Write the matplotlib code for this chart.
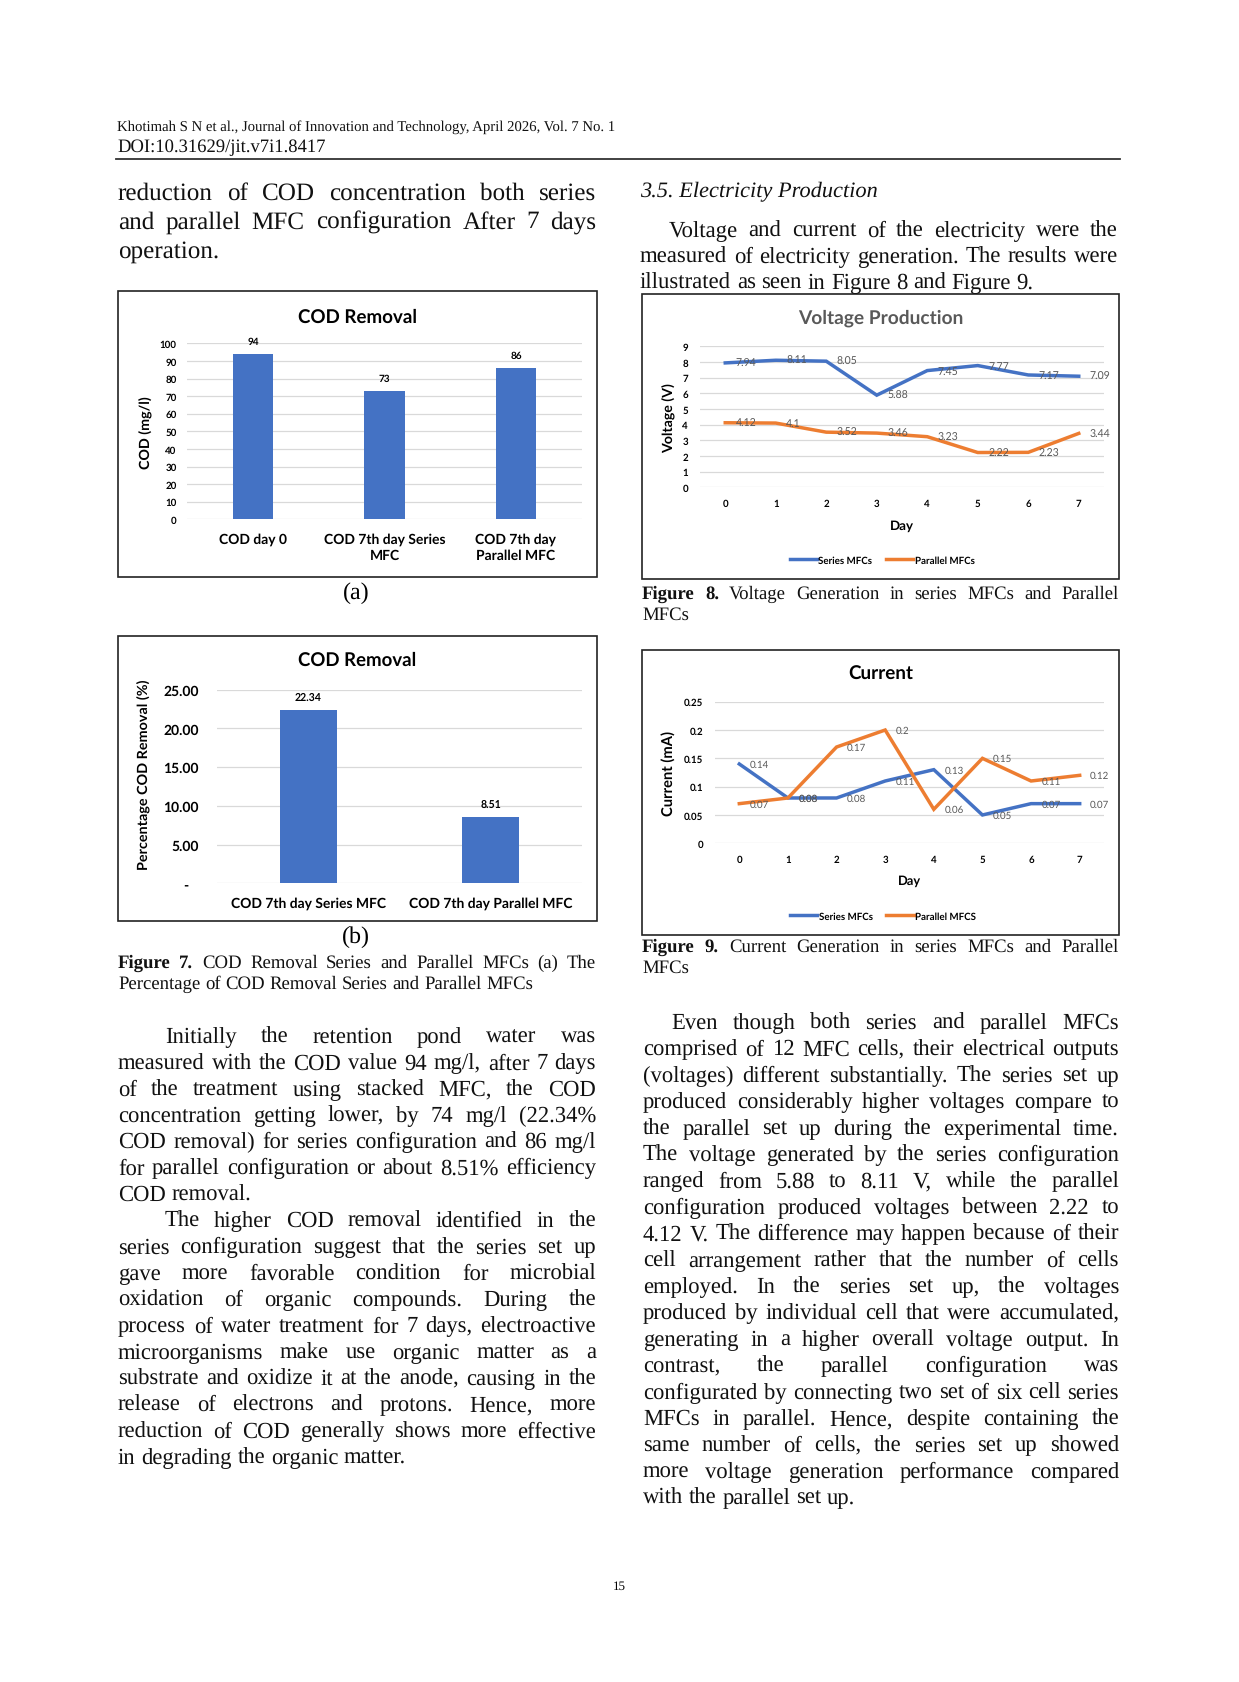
import matplotlib
matplotlib.use('Agg')
import matplotlib.pyplot as plt
from matplotlib.font_manager import FontProperties
from matplotlib.patches import Rectangle

plt.rcParams['text.hinting'] = 'no_hinting'
plt.rcParams['text.antialiased'] = True

# ---------------- data ----------------
cod_categories = ["COD day 0", "COD 7th day Series\nMFC", "COD 7th day\nParallel MFC"]
cod_values = [94, 73, 86]
cod_yticks = [0, 10, 20, 30, 40, 50, 60, 70, 80, 90, 100]

removal_categories = ["COD 7th day Series MFC", "COD 7th day Parallel MFC"]
removal_values = [22.34, 8.51]
removal_yticks = [0, 5, 10, 15, 20, 25]

days = [0, 1, 2, 3, 4, 5, 6, 7]
voltage_series = [7.94, 8.11, 8.05, 5.88, 7.45, 7.77, 7.17, 7.09]
voltage_parallel = [4.12, 4.1, 3.52, 3.46, 3.23, 2.22, 2.23, 3.44]
voltage_yticks = [0, 1, 2, 3, 4, 5, 6, 7, 8, 9]

current_series = [0.14, 0.08, 0.08, 0.11, 0.13, 0.05, 0.07, 0.07]
current_parallel = [0.07, 0.08, 0.17, 0.2, 0.06, 0.15, 0.11, 0.12]
current_yticks = [0, 0.05, 0.1, 0.15, 0.2, 0.25]
current_yticklabels = ["0", "0.05", "0.1", "0.15", "0.2", "0.25"]

# ---------------- page text ----------------
header_line = "Khotimah S N et al., Journal of Innovation and Technology, April 2026, Vol. 7 No. 1"
doi_line = "DOI:10.31629/jit.v7i1.8417"

left_top_lines = ["reduction of COD concentration both series",
                  "and parallel MFC configuration After 7 days",
                  "operation."]
right_heading = "3.5. Electricity Production"
right_top_lines = ["Voltage and current of the electricity were the",
                   "measured of electricity generation. The results were",
                   "illustrated as seen in Figure 8 and Figure 9."]
fig7_caption = ["Figure 7. COD Removal Series and Parallel MFCs (a) The",
                "Percentage of COD Removal Series and Parallel MFCs"]
fig8_caption = ["Figure 8. Voltage Generation in series MFCs and Parallel", "MFCs"]
fig9_caption = ["Figure 9. Current Generation in series MFCs and Parallel", "MFCs"]

left_body = ["Initially the retention pond water was",
             "measured with the COD value 94 mg/l, after 7 days",
             "of the treatment using stacked MFC, the COD",
             "concentration getting lower, by 74 mg/l (22.34%",
             "COD removal) for series configuration and 86 mg/l",
             "for parallel configuration or about 8.51% efficiency",
             "COD removal.",
             "The higher COD removal identified in the",
             "series configuration suggest that the series set up",
             "gave more favorable condition for microbial",
             "oxidation of organic compounds. During the",
             "process of water treatment for 7 days, electroactive",
             "microorganisms make use organic matter as a",
             "substrate and oxidize it at the anode, causing in the",
             "release of electrons and protons. Hence, more",
             "reduction of COD generally shows more effective",
             "in degrading the organic matter."]
left_body_indent = {0, 7}
left_body_last = {6, 16}

right_body = ["Even though both series and parallel MFCs",
              "comprised of 12 MFC cells, their electrical outputs",
              "(voltages) different substantially. The series set up",
              "produced considerably higher voltages compare to",
              "the parallel set up during the experimental time.",
              "The voltage generated by the series configuration",
              "ranged from 5.88 to 8.11 V, while the parallel",
              "configuration produced voltages between 2.22 to",
              "4.12 V. The difference may happen because of their",
              "cell arrangement rather that the number of cells",
              "employed. In the series set up, the voltages",
              "produced by individual cell that were accumulated,",
              "generating in a higher overall voltage output. In",
              "contrast, the parallel configuration was",
              "configurated by connecting two set of six cell series",
              "MFCs in parallel. Hence, despite containing the",
              "same number of cells, the series set up showed",
              "more voltage generation performance compared",
              "with the parallel set up."]
right_body_indent = {0}
right_body_last = {18}

# ---------------- setup ----------------
W, H = 1239, 1683
fig = plt.figure(figsize=(W / 100, H / 100), dpi=100)
fig.patch.set_facecolor('white')
renderer = fig.canvas.get_renderer()

SERIF = 'Liberation Serif'
SANS = 'Lato'
BLUE = '#4472C4'
ORANGE = '#ED7D31'
GRID = '#d9d9d9'
GRAY = '#595959'


def fx(x):
    return x / W


def fy(y):
    return 1 - y / H


def tw(s, size, family=SERIF, style='normal', weight='normal'):
    fp = FontProperties(family=family, size=size, style=style, weight=weight)
    w, h, d = renderer.get_text_width_height_descent(s, fp, ismath=False)
    return w


def fit(s, width, family=SERIF, style='normal', weight='normal'):
    return 10 * width / tw(s, 10, family, style, weight)


def put_line(text, x0, x1, ycenter, size, justify, bold_n=0, style='normal'):
    words = text.split()
    em = size * 100 / 72
    ybase = ycenter + 0.31 * em
    ws = [tw(w, size, weight='bold' if i < bold_n else 'normal', style=style)
          for i, w in enumerate(words)]
    if justify and len(words) > 1:
        gap = (x1 - x0 - sum(ws)) / (len(words) - 1)
    else:
        gap = tw('a b', size, style=style) - tw('ab', size, style=style)
    x = x0
    for i, (w, wd) in enumerate(zip(words, ws)):
        fig.text(fx(x), fy(ybase), w, fontsize=size, family=SERIF,
                 weight='bold' if i < bold_n else 'normal', style=style,
                 ha='left', va='baseline', color='#111111')
        x += wd + gap


def paragraph(lines, x0, x1, y0, dy, size, indent_set=(), last_set=(), indent=0, bold_n=0):
    for i, line in enumerate(lines):
        xi = x0 + (indent if i in indent_set else 0)
        put_line(line, xi, x1, y0 + i * dy, size, i not in last_set and i != len(lines) - 1,
                 bold_n=bold_n if i == 0 else 0)


def box(x0, y0, x1, y1):
    fig.patches.append(Rectangle((fx(x0), fy(y1)), (x1 - x0) / W, (y1 - y0) / H,
                                 transform=fig.transFigure, fill=False,
                                 ec='#222222', lw=1.2))


def make_ax(x0, x1, ytop, ybot):
    ax = fig.add_axes([fx(x0), fy(ybot), (x1 - x0) / W, (ybot - ytop) / H])
    for s in ax.spines.values():
        s.set_visible(False)
    ax.set_axisbelow(True)
    ax.yaxis.grid(True, color=GRID, lw=0.9)
    ax.tick_params(length=0)
    ax.set_facecolor('none')
    return ax


def ctext(x, y, s, width, family=SANS, weight='bold', color='black', rotation=0, style='normal'):
    size = fit(s, width, family, style, weight)
    fig.text(fx(x), fy(y), s, fontsize=size, family=family, weight=weight, style=style,
             color=color, rotation=rotation, ha='center', va='center')


# ---------------- header ----------------
hs = fit(header_line, 497)
fig.text(fx(117), fy(126.5 + 0.31 * hs * 100 / 72), header_line, fontsize=hs, family=SERIF,
         ha='left', va='baseline', color='#111111')
ds = fit(doi_line, 209)
fig.text(fx(117), fy(146.5 + 0.31 * ds * 100 / 72), doi_line, fontsize=ds, family=SERIF,
         ha='left', va='baseline', color='#111111')
fig.add_artist(plt.Line2D([fx(116), fx(1120)], [fy(159.5), fy(159.5)], color='#333333', lw=1.3,
                          transform=fig.transFigure))

# ---------------- top text ----------------
top_size = fit("operation.", 101)
paragraph(left_top_lines, 118, 596, 191.5, 29, top_size)
hd_size = fit(right_heading, 238, style='italic')
fig.text(fx(640), fy(190.5 + 0.31 * hd_size * 100 / 72),
         right_heading, fontsize=hd_size, family=SERIF,
         style='italic', ha='left', va='baseline', color='#111111')
rt_size = fit(right_top_lines[2], 394)
paragraph(right_top_lines, 640, 1118, 229.5, 26, rt_size, indent_set={0}, indent=29)

# ---------------- captions & body ----------------
cap_size = fit(fig7_caption[1], 415)
paragraph(fig7_caption, 118, 596, 962, 21, cap_size, bold_n=2)
paragraph(fig8_caption, 642, 1119, 593, 21, cap_size, bold_n=2)
paragraph(fig9_caption, 642, 1119, 946, 21, cap_size, bold_n=2)

ab_size = fit("(b)", 28)
fig.text(fx(356), fy(593), "(a)", fontsize=ab_size, family=SERIF, ha='center', va='center')
fig.text(fx(356), fy(937), "(b)", fontsize=ab_size, family=SERIF, ha='center', va='center')

body_size = fit(left_body[-1], 288)
paragraph(left_body, 118, 596, 1036, 26.3, body_size, left_body_indent, left_body_last, indent=47)
paragraph(right_body, 643, 1119, 1022, 26.4, body_size, right_body_indent, right_body_last, indent=28)

fig.text(fx(619), fy(1587), "15", fontsize=fit("15", 13), family=SERIF, ha='center', va='center')

# ---------------- chart (a) ----------------
box(118, 292, 597, 578)
ax = make_ax(187.3, 581.7, 344.3, 520.3)
bars = ax.bar(range(len(cod_values)), cod_values, width=0.31, color=BLUE)
ax.set_xlim(-0.5, len(cod_values) - 0.5)
ax.set_ylim(0, 100)
ax.set_yticks(cod_yticks)
ax.set_yticklabels([str(v) for v in cod_yticks], fontsize=7, weight='bold', family=SANS)
ax.set_xticks(range(len(cod_categories)))
ax.set_xticklabels(cod_categories, fontsize=10, weight='bold', family=SANS, linespacing=1.3)
ax.tick_params(axis='y', pad=7.6)
ax.tick_params(axis='x', pad=9.5)
ax.bar_label(bars, padding=6, fontsize=7.2, weight='bold', family=SANS)
ctext(358, 317, "COD Removal", 119)
ctext(146, 433, "COD (mg/l)", 73, rotation=90)

# ---------------- chart (b) ----------------
box(118, 637, 597, 922)
ax = make_ax(217, 582, 690.7, 884.3)
bars = ax.bar(range(len(removal_values)), removal_values, width=0.31, color=BLUE)
ax.set_xlim(-0.5, len(removal_values) - 0.5)
ax.set_ylim(0, 25)
ax.set_yticks(removal_yticks)
ax.set_yticklabels(["-   " if v == 0 else f"{v:.2f}" for v in removal_yticks],
                   fontsize=10, weight='bold', family=SANS)
ax.set_xticks(range(len(removal_categories)))
ax.set_xticklabels(removal_categories, fontsize=10, weight='bold', family=SANS)
ax.tick_params(axis='y', pad=13)
ax.tick_params(axis='x', pad=9.5)
ax.bar_label(bars, fmt='%.2f', padding=6, fontsize=7.6, weight='bold', family=SANS)
ctext(357, 660, "COD Removal", 118)
ctext(144, 775, "Percentage COD Removal (%)", 190, rotation=90)


# ---------------- line charts ----------------
def line_chart(ax, s1, s2, yticks, yticklabels, ylim, name1, name2, legend_xy, label_size):
    l1, = ax.plot(days, s1, color=BLUE, lw=2.5, solid_joinstyle='miter')
    l2, = ax.plot(days, s2, color=ORANGE, lw=2.5, solid_joinstyle='miter')
    for d, v in zip(days, s1):
        ax.annotate(f"{v:g}", (d, v), xytext=(7.5, 0), textcoords='offset points',
                    ha='left', va='center', fontsize=label_size, color=GRAY, family=SANS)
    for d, v in zip(days, s2):
        ax.annotate(f"{v:g}", (d, v), xytext=(7.5, 0), textcoords='offset points',
                    ha='left', va='center', fontsize=label_size, color=GRAY, family=SANS)
    ax.set_xlim(-0.5, len(days) - 0.5)
    ax.set_ylim(*ylim)
    ax.set_yticks(yticks)
    ax.set_yticklabels(yticklabels, fontsize=7, weight='bold', family=SANS)
    ax.set_xticks(days)
    ax.set_xticklabels([str(d) for d in days], fontsize=7, weight='bold', family=SANS)
    ax.tick_params(axis='y', pad=8.6)
    ax.tick_params(axis='x', pad=7.8)
    ax.legend([l1, l2], [name1, name2], loc='center',
              bbox_to_anchor=(fx(legend_xy[0]), fy(legend_xy[1])), bbox_transform=fig.transFigure,
              ncol=2, frameon=False, handlelength=2.8, handletextpad=0.15, columnspacing=1.4,
              borderpad=0, prop=FontProperties(family=SANS, weight='bold', size=7))


box(642, 295, 1119, 580)
ax = make_ax(700, 1104, 347.3, 488.3)
line_chart(ax, voltage_series, voltage_parallel, voltage_yticks,
           [str(v) for v in voltage_yticks], (0, 9), "Series MFCs", "Parallel MFCs", (882, 561), 7.6)
ctext(881, 318, "Voltage Production", 165, color=GRAY)
ctext(902, 526, "Day", 24)
ctext(669, 418, "Voltage (V)", 70, rotation=90)

box(642, 651, 1119, 936)
ax = make_ax(715, 1104, 702.7, 844.3)
line_chart(ax, current_series, current_parallel, current_yticks, current_yticklabels,
           (0, 0.25), "Series MFCs", "Parallel MFCS", (883, 917), 7)
ctext(881, 674, "Current", 65)
ctext(910, 881, "Day", 23)
ctext(669, 773, "Current (mA)", 85, rotation=90)

fig.savefig('out.png', dpi=100, facecolor='white')
